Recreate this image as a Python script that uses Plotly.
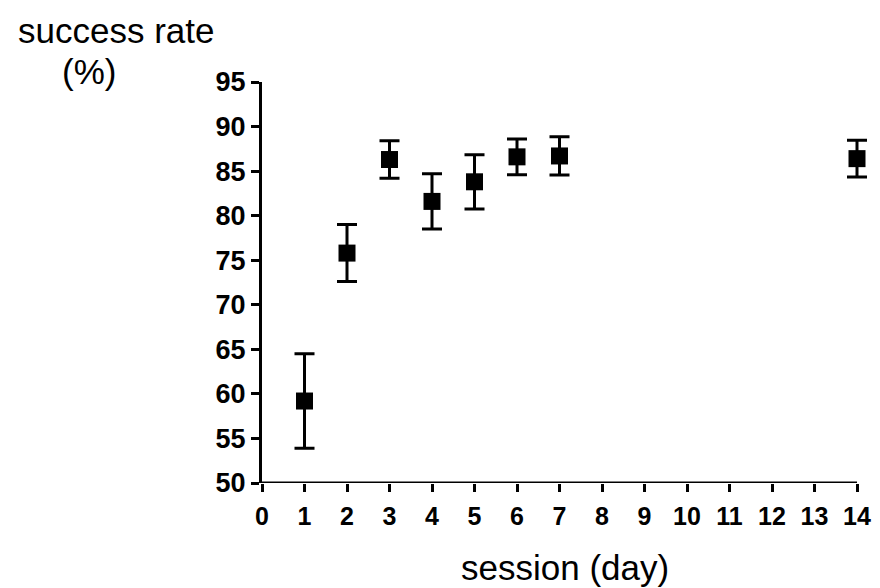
import plotly.graph_objects as go

sessions = [1, 2, 3, 4, 5, 6, 7, 14]
success_rate = [59.2, 75.8, 86.3, 81.6, 83.8, 86.6, 86.7, 86.4]
sem = [5.3, 3.2, 2.1, 3.1, 3.05, 2.0, 2.15, 2.05]
x_ticks = list(range(0, 15))
y_ticks = list(range(50, 100, 5))

FONT = "Liberation Sans, Arial, sans-serif"

fig = go.Figure()
fig.add_trace(go.Scatter(
    x=sessions, y=success_rate, mode="markers",
    marker=dict(symbol="square", size=17, color="black"),
    error_y=dict(type="data", array=sem, visible=True, color="black", thickness=3, width=10),
    cliponaxis=False, showlegend=False,
))

# x axis line drawn only from 0 to 14 (plot area extends a little further so the last error bar is not clipped)
fig.add_shape(type="line", xref="x", yref="y", x0=x_ticks[0], x1=x_ticks[-1], y0=y_ticks[0], y1=y_ticks[0],
              line=dict(color="black", width=3))

fig.update_layout(
    width=872, height=580,
    margin=dict(l=254, r=6, t=74, b=105),
    plot_bgcolor="white", paper_bgcolor="white",
    font=dict(family=FONT, color="black"),
    xaxis=dict(
        range=[0, 14.4], tickmode="array", tickvals=x_ticks,
        ticktext=[f"<b>{t}</b>" for t in x_ticks],
        showline=False,
        ticks="outside", ticklen=8, tickwidth=3, tickcolor="black",
        showgrid=False, zeroline=False, ticklabelstandoff=3,
        tickfont=dict(family=FONT, size=25, color="black"),
    ),
    yaxis=dict(
        range=[50, 95], tickmode="array", tickvals=y_ticks,
        ticktext=[f"<b>{t}</b>" for t in y_ticks],
        showline=True, linecolor="black", linewidth=3,
        ticks="outside", ticklen=8, tickwidth=3, tickcolor="black",
        showgrid=False, zeroline=False,
        tickfont=dict(family=FONT, size=27, color="black"),
    ),
    annotations=[
        dict(text="success rate", xref="paper", yref="paper",
             x=-0.239, y=1.182, xanchor="center", yanchor="top", showarrow=False,
             font=dict(size=35, color="black", family=FONT)),
        dict(text="(%)", xref="paper", yref="paper",
             x=-0.283, y=1.025, xanchor="center", yanchor="middle", showarrow=False,
             font=dict(size=35, color="black", family=FONT)),
        dict(text="session (day)", xref="paper", yref="paper",
             x=0.495, y=-0.2095, xanchor="center", yanchor="middle", showarrow=False,
             font=dict(size=35, color="black", family=FONT)),
    ],
)
fig.write_html("out.html")
